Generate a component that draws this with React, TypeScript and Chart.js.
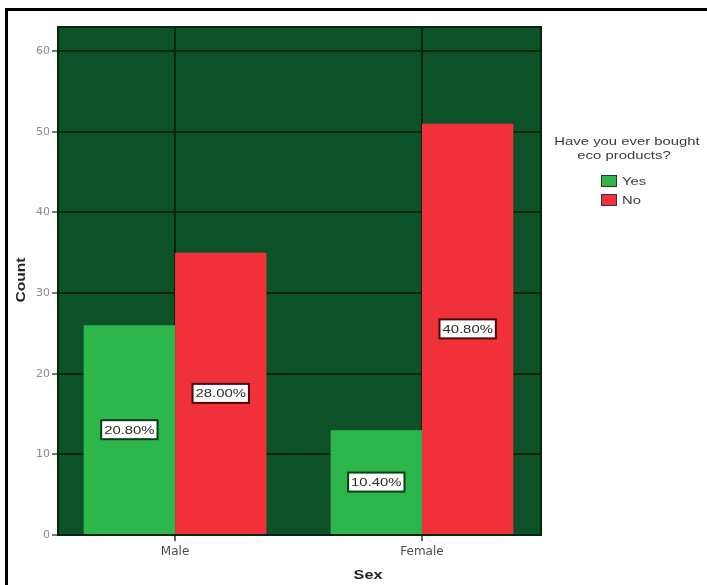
import React, { useEffect, useRef } from 'react';
import { Chart, registerables } from 'chart.js';

Chart.register(...registerables);

const categories = ['Male', 'Female'];
const categoryPositions = [1, 2];
const seriesNames = ['Yes', 'No'];
const yesCounts = [26, 13];
const noCounts = [35, 51];
const yesPercents = ['20.80%', '10.40%'];
const noPercents = ['28.00%', '40.80%'];
const yTicks = [0, 10, 20, 30, 40, 50, 60];
const legendTitle = ['Have you ever bought', 'eco products?'];
const xTitle = 'Sex';
const yTitle = 'Count';

const GREEN = '#2db64b';
const RED = '#f0313a';
const PLOT_BG = '#0c5128';
const GRID = '#03240d';
const FONT = '"Liberation Sans", Arial, sans-serif';
const TICK_FONT = '"DejaVu Sans", sans-serif';
const SX = 1.35;

function stretchText(ctx: CanvasRenderingContext2D, text: string, x: number, y: number, align: CanvasTextAlign) {
  ctx.save();
  ctx.translate(x, y);
  ctx.scale(SX, 1);
  ctx.textAlign = align;
  ctx.fillText(text, 0, 0);
  ctx.restore();
}

export default function App() {
  const ref = useRef<HTMLCanvasElement | null>(null);

  useEffect(() => {
    if (!ref.current) return;
    const percentLabels = [yesPercents, noPercents];
    const labelBorders = ['#0b3d18', '#4a080c'];

    const bgPlugin = {
      id: 'bgPlugin',
      beforeDraw(chart: any) {
        const { ctx, chartArea: a } = chart;
        ctx.save();
        ctx.fillStyle = '#ffffff';
        ctx.fillRect(0, 0, chart.width, chart.height);
        ctx.fillStyle = '#000000';
        ctx.fillRect(5, 8, chart.width - 5, 3);
        ctx.fillRect(5, 8, 3, chart.height - 8);
        ctx.fillStyle = PLOT_BG;
        ctx.fillRect(a.left, a.top, a.right - a.left, a.bottom - a.top);
        ctx.restore();
      },
      afterDatasetsDraw(chart: any) {
        const { ctx } = chart;
        ctx.save();
        ctx.font = `11px ${FONT}`;
        ctx.textBaseline = 'middle';
        chart.data.datasets.forEach((ds: any, di: number) => {
          const meta = chart.getDatasetMeta(di);
          meta.data.forEach((bar: any, i: number) => {
            const text = percentLabels[di][i];
            const cx = bar.x;
            const cy = (bar.y + bar.base) / 2;
            const w = ctx.measureText(text).width * SX + 6;
            const h = 19;
            ctx.fillStyle = '#ffffff';
            ctx.fillRect(cx - w / 2, cy - h / 2, w, h);
            ctx.strokeStyle = labelBorders[di];
            ctx.lineWidth = 2;
            ctx.strokeRect(cx - w / 2, cy - h / 2, w, h);
            ctx.fillStyle = '#2a2a2a';
            stretchText(ctx, text, cx, cy + 1, 'center');
          });
        });
        ctx.restore();
      },
      afterDraw(chart: any) {
        const { ctx, chartArea: a } = chart;
        ctx.save();
        ctx.strokeStyle = GRID;
        ctx.lineWidth = 2;
        ctx.strokeRect(a.left, a.top, a.right - a.left, a.bottom - a.top);
        ctx.fillStyle = '#222222';
        ctx.font = `bold 12px ${FONT}`;
        ctx.textBaseline = 'middle';
        stretchText(ctx, xTitle, 368, 576, 'center');
        ctx.save();
        ctx.translate(22, 280);
        ctx.rotate(-Math.PI / 2);
        ctx.scale(1.3, 1);
        ctx.textAlign = 'center';
        ctx.fillText(yTitle, 0, 0);
        ctx.restore();
        ctx.font = `11px ${FONT}`;
        ctx.fillStyle = '#3a3a3a';
        stretchText(ctx, legendTitle[0], 627, 142, 'center');
        stretchText(ctx, legendTitle[1], 624, 156, 'center');
        const colors = [GREEN, RED];
        seriesNames.forEach((name, i) => {
          const y = 181 + i * 19;
          ctx.fillStyle = colors[i];
          ctx.fillRect(601, y - 6, 16, 12);
          ctx.strokeStyle = '#333333';
          ctx.lineWidth = 1;
          ctx.strokeRect(601.5, y - 5.5, 15, 11);
          ctx.fillStyle = '#3a3a3a';
          stretchText(ctx, name, 622, y + 1, 'left');
        });
        ctx.restore();
      },
    };

    const chart = new Chart(ref.current, {
      type: 'bar',
      data: {
        datasets: [
          {
            label: seriesNames[0],
            data: categoryPositions.map((x, i) => ({ x, y: yesCounts[i] })),
            backgroundColor: GREEN,
            borderWidth: 0,
            categoryPercentage: 0.74,
            barPercentage: 1,
          },
          {
            label: seriesNames[1],
            data: categoryPositions.map((x, i) => ({ x, y: noCounts[i] })),
            backgroundColor: RED,
            borderWidth: 0,
            categoryPercentage: 0.74,
            barPercentage: 1,
          },
        ] as any,
      },
      options: {
        responsive: false,
        animation: false,
        layout: { padding: { left: 0, right: 166, top: 27, bottom: 0 } },
        plugins: {
          legend: { display: false },
          title: { display: false },
          tooltip: { enabled: false },
        },
        scales: {
          x: {
            type: 'linear',
            min: 0.526,
            max: 2.482,
            offset: false,
            grid: {
              offset: false,
              color: GRID,
              lineWidth: 2,
              tickColor: '#666666',
              tickLength: 6,
              drawTicks: true,
            },
            border: { display: true, color: GRID, width: 2 },
            afterBuildTicks(scale: any) {
              scale.ticks = categoryPositions.map((v) => ({ value: v }));
            },
            afterFit(scale: any) {
              scale.height = 50;
            },
            ticks: {
              autoSkip: false,
              maxRotation: 0,
              padding: 4,
              color: '#4a4a4a',
              font: { family: TICK_FONT, size: 12 },
              callback: (v: any) => {
                const idx = categoryPositions.indexOf(Number(v));
                return idx >= 0 ? categories[idx] : '';
              },
            },
          },
          y: {
            type: 'linear',
            min: 0,
            max: 63,
            grid: {
              color: GRID,
              lineWidth: 2,
              tickColor: '#777777',
              tickLength: 6,
            },
            border: { display: true, color: GRID, width: 2 },
            afterBuildTicks(scale: any) {
              scale.ticks = yTicks.map((v) => ({ value: v }));
            },
            afterFit(scale: any) {
              scale.width = 58;
            },
            ticks: {
              padding: 2,
              color: '#8a8a8a',
              font: { family: TICK_FONT, size: 11 },
            },
          },
        },
      } as any,
      plugins: [bgPlugin],
    });

    return () => chart.destroy();
  }, []);

  return (
    <div style={{ position: 'fixed', left: 0, top: 0, width: 707, height: 585, background: '#fff' }}>
      <canvas ref={ref} width={707} height={585} style={{ display: 'block', width: 707, height: 585 }} />
    </div>
  );
}
